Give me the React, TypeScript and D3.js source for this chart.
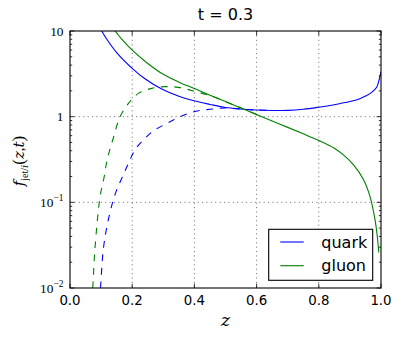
import React from "react";
import * as d3 from "d3";

// ---- data ----
const quarkZ = [0.09, 0.102, 0.12, 0.15, 0.2, 0.241, 0.295, 0.348, 0.402, 0.45, 0.5, 0.55, 0.6, 0.65, 0.7, 0.75, 0.8, 0.85, 0.9, 0.93, 0.95, 0.97, 0.986, 0.995, 1.0];
const quarkV = [12.2, 10, 7.85, 5.6, 3.67, 2.77, 2.1, 1.74, 1.52, 1.39, 1.28, 1.23, 1.195, 1.18, 1.185, 1.22, 1.29, 1.38, 1.5, 1.61, 1.74, 1.92, 2.2, 2.8, 3.35];

const gluonZ = [0.13, 0.145, 0.17, 0.2, 0.25, 0.3, 0.35, 0.4, 0.45, 0.5, 0.55, 0.6, 0.65, 0.7, 0.75, 0.8, 0.85, 0.88, 0.911, 0.943, 0.965, 0.981, 0.988, 0.993];
const gluonV = [11.9, 10, 7.75, 5.97, 4.18, 3.12, 2.53, 2.13, 1.78, 1.5, 1.26, 1.06, 0.89, 0.75, 0.63, 0.527, 0.427, 0.355, 0.275, 0.186, 0.116, 0.062, 0.04, 0.026];

const quarkDashZ = [0.094, 0.098, 0.107, 0.12, 0.137, 0.15, 0.171, 0.188, 0.209, 0.241, 0.273, 0.316, 0.359, 0.402, 0.45, 0.5, 0.55, 0.6, 0.65];
const quarkDashV = [0.007, 0.01, 0.028, 0.055, 0.1, 0.139, 0.208, 0.286, 0.41, 0.56, 0.7, 0.85, 1.02, 1.15, 1.22, 1.26, 1.23, 1.195, 1.18];

const gluonDashZ = [0.068, 0.073, 0.08, 0.0965, 0.11, 0.12, 0.139, 0.161, 0.188, 0.22, 0.263, 0.305, 0.348, 0.4, 0.45, 0.5, 0.55, 0.6];
const gluonDashV = [0.007, 0.01, 0.028, 0.115, 0.2, 0.32, 0.56, 1.0, 1.43, 1.87, 2.14, 2.24, 2.2, 1.98, 1.76, 1.5, 1.26, 1.06];

const xTicks = [0, 0.2, 0.4, 0.6, 0.8, 1.0];
const xTickLabels = ["0.0", "0.2", "0.4", "0.6", "0.8", "1.0"];
const yTicks = [0.01, 0.1, 1, 10];
const yTickBase = ["10", "10", "1", "10"];
const yTickExp = ["\u22122", "\u22121", "", ""];

const title = "t = 0.3";
const legendNames = ["quark", "gluon"];
const colors = ["#0000ff", "#008000"];

const W = 399, H = 340;
const L = 70, R = 381, T = 31, B = 288;

export default function App() {
  const x = d3.scaleLinear().domain([0, 1]).range([L, R]);
  const y = d3.scaleLog().domain([0.01, 10]).range([B, T]);
  const line = d3
    .line<[number, number]>()
    .x((d) => x(d[0]))
    .y((d) => y(d[1]))
    .curve(d3.curveCatmullRom.alpha(0.5));
  const pts = (zs: number[], vs: number[]) => zs.map((z, i) => [z, vs[i]] as [number, number]);

  const minor = y.ticks().filter((v) => Math.abs(Math.log10(v) - Math.round(Math.log10(v))) > 1e-6);
  const lw = 1.1;
  const sans = "DejaVu Sans";
  const serif = "Liberation Serif";
  const iserif = "DejaVu Serif";

  return (
    <svg width={W} height={H} style={{ position: "absolute", left: 0, top: 0, background: "#fff" }}>
      <rect x={0} y={0} width={W} height={H} fill="#fff" />
      <defs>
        <clipPath id="plot">
          <rect x={L} y={T} width={R - L} height={B - T} />
        </clipPath>
      </defs>
      {/* curves */}
      <g clipPath="url(#plot)" fill="none" strokeWidth={lw}>
        <path d={line(pts(quarkZ, quarkV)) || ""} stroke={colors[0]} />
        <path d={line(pts(gluonZ, gluonV)) || ""} stroke={colors[1]} />
        <path d={line(pts(quarkDashZ, quarkDashV)) || ""} stroke={colors[0]} strokeDasharray="6.7,6.7" />
        <path d={line(pts(gluonDashZ, gluonDashV)) || ""} stroke={colors[1]} strokeDasharray="6.7,6.7" />
      </g>
      {/* grid */}
      <g stroke="#000" strokeWidth={0.55} strokeDasharray="1.1,3.3">
        {xTicks.slice(1, -1).map((t) => (
          <line key={"gx" + t} x1={x(t)} x2={x(t)} y1={T} y2={B} />
        ))}
        {yTicks.slice(1, -1).map((t) => (
          <line key={"gy" + t} x1={L} x2={R} y1={y(t)} y2={y(t)} />
        ))}
      </g>
      {/* ticks */}
      <g stroke="#000" strokeWidth={0.8}>
        {xTicks.map((t) => (
          <g key={"tx" + t}>
            <line x1={x(t)} x2={x(t)} y1={B} y2={B - 4.4} />
            <line x1={x(t)} x2={x(t)} y1={T} y2={T + 4.4} />
          </g>
        ))}
        {yTicks.map((t) => (
          <g key={"ty" + t}>
            <line x1={L} x2={L + 4.4} y1={y(t)} y2={y(t)} />
            <line x1={R} x2={R - 4.4} y1={y(t)} y2={y(t)} />
          </g>
        ))}
        {minor.map((t) => (
          <g key={"tm" + t}>
            <line x1={L} x2={L + 2.2} y1={y(t)} y2={y(t)} />
            <line x1={R} x2={R - 2.2} y1={y(t)} y2={y(t)} />
          </g>
        ))}
      </g>
      {/* frame */}
      <rect x={L} y={T} width={R - L} height={B - T} fill="none" stroke="#000" strokeWidth={lw} />
      {/* x tick labels */}
      {xTicks.map((t, i) => (
        <text key={"lx" + t} x={x(t)} y={305} textAnchor="middle" fontFamily={sans} fontSize={13.33} fill="#000">
          {xTickLabels[i]}
        </text>
      ))}
      {/* y tick labels */}
      {yTicks.map((t, i) => (
        <text key={"ly" + t} x={63.5} y={y(t) + 4.5} textAnchor="end" fontFamily={serif} fontSize={13.33} fill="#000">
          {yTickBase[i]}
          {yTickExp[i] ? (
            <tspan fontSize={9.5} dy={-6}>
              {yTickExp[i]}
            </tspan>
          ) : null}
        </text>
      ))}
      {/* title */}
      <text x={(L + R) / 2} y={20} textAnchor="middle" fontFamily={sans} fontSize={16} fill="#000">
        {title}
      </text>
      {/* x label */}
      <text x={(L + R) / 2} y={326} textAnchor="middle" fontFamily={iserif} fontStyle="italic" fontSize={17} fill="#000">
        z
      </text>
      {/* y label */}
      <text transform="translate(24,161) rotate(-90)" textAnchor="middle" fontFamily={iserif} fontSize={15} fill="#000">
        <tspan fontStyle="italic">f</tspan>
        <tspan fontSize={10} dy={3.5} fontFamily={serif}>jet/</tspan>
        <tspan fontSize={10} fontStyle="italic">i</tspan>
        <tspan dy={-3.5} fontFamily={serif} fontSize={17}>(</tspan>
        <tspan fontStyle="italic">z</tspan>
        <tspan fontFamily={serif}>,</tspan>
        <tspan fontStyle="italic">t</tspan>
        <tspan fontFamily={serif} fontSize={17}>)</tspan>
      </text>
      {/* legend */}
      <g>
        <rect x={268.7} y={229.3} width={104} height={51} fill="#fff" stroke="#000" strokeWidth={lw} />
        {legendNames.map((n, i) => (
          <g key={n}>
            <line x1={280.3} x2={303.7} y1={242 + i * 23.7} y2={242 + i * 23.7} stroke={colors[i]} strokeWidth={lw} />
            <text x={321.3} y={242 + i * 23.7 + 5.5} fontFamily={sans} fontSize={16} fill="#000">
              {n}
            </text>
          </g>
        ))}
      </g>
    </svg>
  );
}
